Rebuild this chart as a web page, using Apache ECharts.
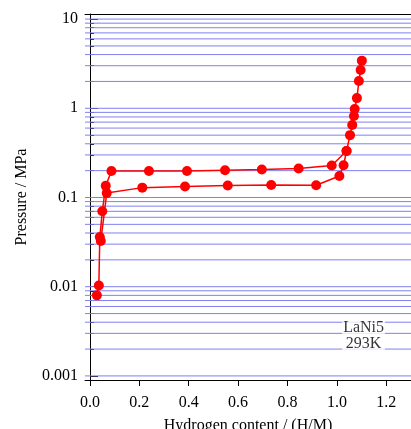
<!DOCTYPE html>
<html><head><meta charset="utf-8">
<script src="https://cdn.jsdelivr.net/npm/echarts@6/dist/echarts.min.js"></script>
<style>html,body{margin:0;padding:0;background:#fff}#c{width:411px;height:429px}</style>
</head><body><div id="c"></div>
<script>
// Absorption branch (upper)
const absorbH = [0.028,0.036,0.040,0.050,0.064,0.087,0.239,0.393,0.547,0.696,0.845,0.979,1.039,1.053,1.062,1.069,1.072,1.081,1.089,1.096,1.101];
const absorbP = [0.0080,0.0103,0.036,0.070,0.135,0.198,0.198,0.198,0.202,0.206,0.211,0.228,0.332,0.50,0.65,0.82,0.98,1.30,2.02,2.69,3.42];
// Desorption branch (lower)
const desorbH = [1.039,1.027,1.010,0.916,0.734,0.558,0.385,0.212,0.068,0.044];
const desorbP = [0.332,0.230,0.174,0.137,0.138,0.136,0.133,0.129,0.112,0.0326];
// Ticks
const xTicks = [0,0.2,0.4,0.6,0.8,1.0,1.2];
const yMajor = [0.001,0.01,0.1,1,10];
const yMinor = [0.002,0.003,0.004,0.005,0.006,0.007,0.008,0.009,
                0.02,0.03,0.04,0.05,0.06,0.07,0.08,0.09,
                0.2,0.3,0.4,0.5,0.6,0.7,0.8,0.9,
                2,3,4,5,6,7,8,9];
const gridLines = yMajor.concat(yMinor);
const noteText = ['LaNi5','293K'];
const notePos = [1.108, 0.0028];

const X_MIN = -0.02, X_MAX = 1.3, Y_MIN = 0.0009, Y_MAX = 11.4;
const FONT = 'Liberation Serif';
const chart = echarts.init(document.getElementById('c'), null, {renderer:'canvas'});
const fmtY = v => String(+(+v).toPrecision(3));
const yBase = {
  type:'log', min:Y_MIN, max:Y_MAX, position:'left',
  splitLine:{show:false}, minorTick:{show:false}
};
const gridSeries = gridLines.map(v => ({
  type:'line', z:1, silent:true, symbol:'none',
  lineStyle:{color:'#8080f0', width:1},
  data:[[X_MIN, v],[X_MAX, v]]
}));
chart.setOption({
  animation:false,
  grid:{left:85, top:14, right:0, bottom:49, containLabel:false, outerBoundsMode:'none'},
  xAxis:[{
    type:'value', min:X_MIN, max:X_MAX, position:'bottom',
    name:'Hydrogen content / (H/M)', nameLocation:'middle', nameGap:38,
    nameTextStyle:{fontFamily:FONT, fontSize:16, color:'#000'},
    axisLine:{show:true, lineStyle:{color:'#000', width:1}},
    axisTick:{show:true, inside:false, length:6, customValues:xTicks, lineStyle:{color:'#000'}},
    axisLabel:{show:true, customValues:xTicks, margin:15, formatter:v=>(+v).toFixed(1),
      fontFamily:FONT, fontSize:16, color:'#000'},
    splitLine:{show:false}
  },{
    type:'value', min:X_MIN, max:X_MAX, position:'top',
    axisLine:{show:true, lineStyle:{color:'#000', width:1}},
    axisTick:{show:false}, axisLabel:{show:false}, splitLine:{show:false}
  }],
  yAxis:[Object.assign({}, yBase, {
    name:'Pressure / MPa', nameLocation:'middle', nameGap:55, nameRotate:90,
    nameTextStyle:{fontFamily:FONT, fontSize:16, color:'#000'},
    axisLine:{show:true, lineStyle:{color:'#000', width:1}},
    axisTick:{show:true, inside:true, length:8, customValues:yMajor, lineStyle:{color:'#000'}},
    axisLabel:{show:true, customValues:yMajor, margin:7, formatter:fmtY,
      fontFamily:FONT, fontSize:16, color:'#000'}
  }), Object.assign({}, yBase, {
    axisLine:{show:false},
    axisTick:{show:true, inside:true, length:4, customValues:yMinor, lineStyle:{color:'#000'}},
    axisLabel:{show:false}
  })],
  series: gridSeries.concat([{
    type:'line', z:3, data:absorbH.map((h,i)=>[h,absorbP[i]]),
    symbol:'circle', symbolSize:10, itemStyle:{color:'#ff0000'},
    lineStyle:{color:'#ff0000', width:1.5}
  },{
    type:'line', z:3, data:desorbH.map((h,i)=>[h,desorbP[i]]),
    symbol:'circle', symbolSize:10, itemStyle:{color:'#ff0000'},
    lineStyle:{color:'#ff0000', width:1.5}
  },{
    type:'scatter', z:5, silent:true, symbolSize:0,
    data:[notePos],
    label:{show:true, position:'inside', formatter:noteText.join('\n'),
      fontFamily:FONT, fontSize:16, lineHeight:16, color:'#000',
      backgroundColor:'#fff', padding:[1,1]}
  }])
});
</script></body></html>
